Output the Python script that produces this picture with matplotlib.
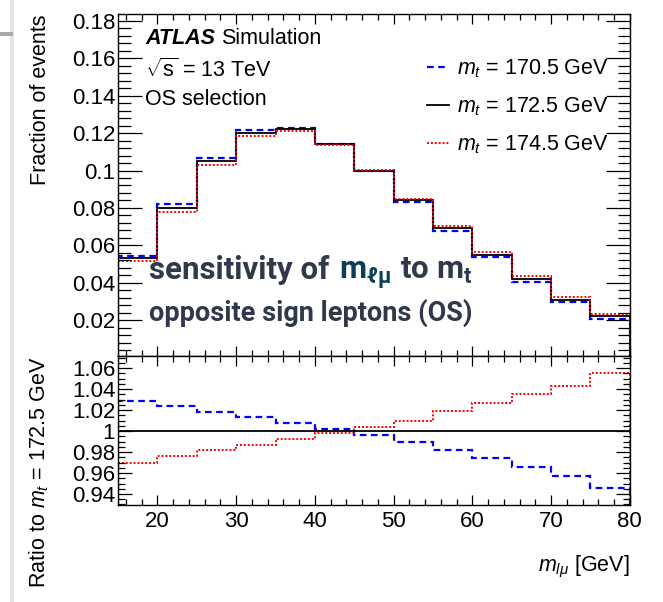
# coding: utf8
# m_lmu shape for three top-quark mass points, with ratio to the nominal sample
import numpy as np
import matplotlib.pyplot as plt
from matplotlib.ticker import MultipleLocator, FormatStrFormatter
from matplotlib.patches import Rectangle

plt.rcParams['font.family'] = ['Liberation Sans', 'DejaVu Sans']
plt.rcParams['mathtext.fontset'] = 'custom'
plt.rcParams['mathtext.it'] = 'Liberation Sans:italic'
plt.rcParams['mathtext.rm'] = 'Liberation Sans'
plt.rcParams['mathtext.bf'] = 'Roboto:bold'

# bin edges in GeV
edges = [15, 20, 25, 30, 35, 40, 45, 50, 55, 60, 65, 70, 75, 80]

# nominal sample, mt = 172.5 GeV (fraction of events per bin)
frac_nominal = [0.053, 0.080, 0.105, 0.120, 0.122, 0.114, 0.100,
                0.084, 0.069, 0.055, 0.042, 0.031, 0.022]

# ratio of the shifted samples to the nominal one
ratio_low = [1.029, 1.024, 1.018, 1.013, 1.008, 1.002, 0.996,
             0.990, 0.982, 0.974, 0.966, 0.957, 0.946]     # mt = 170.5
ratio_high = [0.970, 0.976, 0.982, 0.987, 0.992, 0.998, 1.004,
              1.010, 1.019, 1.027, 1.035, 1.043, 1.055]    # mt = 174.5

labels = [r'$m_t$ = 170.5 GeV', r'$m_t$ = 172.5 GeV', r'$m_t$ = 174.5 GeV']

frac_nominal = np.array(frac_nominal)
frac_low = frac_nominal * np.array(ratio_low)
frac_high = frac_nominal * np.array(ratio_high)

fs = 15.5
fig = plt.figure(figsize=(6.63, 6.02), dpi=100)
ax1 = fig.add_axes([0.178, 0.4086, 0.772, 0.5681])
ax2 = fig.add_axes([0.178, 0.1611, 0.772, 0.2475])

blue_style = dict(color='#0000ff', linestyle=(0, (3, 2)), linewidth=1.6)
black_style = dict(color='black', linestyle='-', linewidth=1.3)
red_style = dict(color='#ff0000', linestyle=(0, (1, 1)), linewidth=1.4)

h1 = ax1.stairs(frac_low, edges, **blue_style)
h2 = ax1.stairs(frac_nominal, edges, **black_style)
h3 = ax1.stairs(frac_high, edges, **red_style)

ax2.axhline(1.0, **black_style)
ax2.stairs(ratio_low, edges, **blue_style)
ax2.stairs(ratio_high, edges, **red_style)

ax1.set_xlim(15, 80)
ax1.set_ylim(0.0008, 0.1837)
ax2.set_xlim(15, 80)
ax2.set_ylim(0.9295, 1.0715)

for ax in (ax1, ax2):
    ax.xaxis.set_major_locator(MultipleLocator(10))
    ax.xaxis.set_minor_locator(MultipleLocator(2))
    ax.tick_params(which='both', direction='in', top=True, right=True,
                   labelsize=16, width=0.9, pad=2)
    for s in ax.spines.values():
        s.set_linewidth(1.0)
ax1.yaxis.set_major_locator(MultipleLocator(0.02))
ax1.yaxis.set_minor_locator(MultipleLocator(0.004))
ax1.yaxis.set_major_formatter(FormatStrFormatter('%g'))
ax1.tick_params(axis='y', which='major', length=17)
ax1.tick_params(axis='y', which='minor', length=9)
ax1.tick_params(axis='x', which='major', length=7)
ax1.tick_params(axis='x', which='minor', length=4)
ax1.tick_params(labelbottom=False)

ax2.yaxis.set_major_locator(MultipleLocator(0.02))
ax2.yaxis.set_minor_locator(MultipleLocator(0.005))
ax2.yaxis.set_major_formatter(FormatStrFormatter('%g'))
ax2.tick_params(axis='y', which='major', length=10, pad=2)
ax2.tick_params(axis='y', which='minor', length=5)
ax2.tick_params(axis='x', which='major', length=7)
ax2.tick_params(axis='x', which='minor', length=4)
ax2.tick_params(axis='x', pad=4)

ax1.set_ylabel('Fraction of events', fontsize=fs, loc='top')
ax2.set_ylabel(r'Ratio to $m_t$ = 172.5 GeV', fontsize=fs, loc='top')
ax2.set_xlabel(r'$m_{l\mu}$ [GeV]', fontsize=fs, loc='right', labelpad=16)
ax1.yaxis.set_label_coords(-0.131, 1.0)
ax2.yaxis.set_label_coords(-0.131, 1.0)

# experiment labels
atlas = ax1.text(0.053, 0.928, 'ATLAS', transform=ax1.transAxes, fontsize=fs,
                 fontweight='bold', fontstyle='italic', va='center')
ax1.annotate('Simulation', xy=(1, 0.5), xycoords=atlas, xytext=(4, 0),
             textcoords='offset points', fontsize=fs, va='center')
ax1.text(0.053, 0.836, r'$\sqrt{\mathrm{s}}$ = 13 TeV', transform=ax1.transAxes,
         fontsize=fs, va='center')
ax1.text(0.053, 0.750, 'OS selection', transform=ax1.transAxes, fontsize=fs, va='center')

leg = ax1.legend([h1, h2, h3], labels, loc='upper right', bbox_to_anchor=(0.98, 0.905),
                 frameon=False, fontsize=fs, handlelength=1.05, handletextpad=0.35,
                 labelspacing=0.72, borderpad=0)

# caption drawn over the distribution, built from pieces of different colour
cap_color = '#30384b'
teal = '#0b3f56'
cap_font = ['Roboto', 'DejaVu Sans']
x0, y0 = 0.0605, 0.225
fig.canvas.draw()
renderer = fig.canvas.get_renderer()
pieces = [('sensitivity of', cap_color), (r'$\mathbf{m}_{\mathbf{\ell\mu}}$', teal),
          (r'to $\mathbf{m}_{\mathbf{t}}$', cap_color)]
x = x0
for s, c in pieces:
    t = ax1.text(x, y0, s, transform=ax1.transAxes, fontsize=22.5, fontweight='bold',
                 color=c, family=cap_font, va='baseline')
    bb = t.get_window_extent(renderer)
    x = ax1.transAxes.inverted().transform((bb.x1, bb.y0))[0] + 0.018
ax1.text(x0, 0.102, 'opposite sign leptons (OS)', transform=ax1.transAxes,
         fontsize=19.5, fontweight='bold', color=cap_color, family=cap_font,
         va='baseline')

# page edge on the left
fig.add_artist(Rectangle((0.0155, 0), 0.005, 1, transform=fig.transFigure,
                         facecolor='#e4e4e4', edgecolor='none'))
fig.add_artist(Rectangle((0.0, 0.940), 0.02, 0.007, transform=fig.transFigure,
                         facecolor='#a8a8a8', edgecolor='none'))

fig.savefig('out.png', dpi=100)
